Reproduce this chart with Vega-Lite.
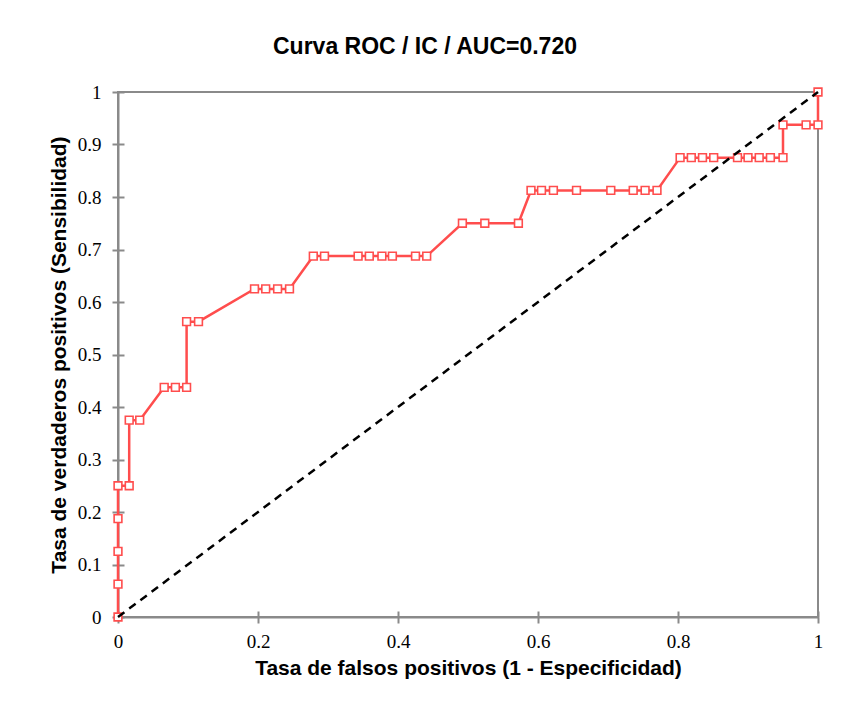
{
  "$schema": "https://vega.github.io/schema/vega-lite/v6.json",
  "width": 700,
  "height": 525,
  "autosize": {"type": "none"},
  "padding": {"left": 118, "top": 92, "right": 24, "bottom": 94},
  "background": "white",
  "title": {
    "text": "Curva ROC / IC / AUC=0.720",
    "font": "Liberation Sans",
    "fontSize": 23,
    "fontWeight": "bold",
    "color": "black",
    "anchor": "middle",
    "dx": -43,
    "offset": 24
  },
  "config": {
    "view": {"stroke": "#8a8a8a", "strokeWidth": 2},
    "axis": {
      "domainColor": "#8a8a8a",
      "domainWidth": 2,
      "tickColor": "#8a8a8a",
      "tickWidth": 2,
      "grid": false,
      "labelFlush": false,
      "labelFont": "Liberation Serif",
      "labelFontSize": 19,
      "labelColor": "black",
      "titleFont": "Liberation Sans",
      "titleFontSize": 21,
      "titleFontWeight": "bold",
      "titleColor": "black"
    }
  },
  "datasets": {
    "roc": [
      {"k": 1, "fpr": 0, "tpr": 0},
      {"k": 2, "fpr": 0, "tpr": 0.0625},
      {"k": 3, "fpr": 0, "tpr": 0.125},
      {"k": 4, "fpr": 0, "tpr": 0.1875},
      {"k": 5, "fpr": 0, "tpr": 0.25},
      {"k": 6, "fpr": 0.016, "tpr": 0.25},
      {"k": 7, "fpr": 0.016, "tpr": 0.375},
      {"k": 8, "fpr": 0.031, "tpr": 0.375},
      {"k": 9, "fpr": 0.066, "tpr": 0.4375},
      {"k": 10, "fpr": 0.082, "tpr": 0.4375},
      {"k": 11, "fpr": 0.098, "tpr": 0.4375},
      {"k": 12, "fpr": 0.098, "tpr": 0.5625},
      {"k": 13, "fpr": 0.115, "tpr": 0.5625},
      {"k": 14, "fpr": 0.195, "tpr": 0.625},
      {"k": 15, "fpr": 0.211, "tpr": 0.625},
      {"k": 16, "fpr": 0.228, "tpr": 0.625},
      {"k": 17, "fpr": 0.245, "tpr": 0.625},
      {"k": 18, "fpr": 0.279, "tpr": 0.6875},
      {"k": 19, "fpr": 0.295, "tpr": 0.6875},
      {"k": 20, "fpr": 0.343, "tpr": 0.6875},
      {"k": 21, "fpr": 0.359, "tpr": 0.6875},
      {"k": 22, "fpr": 0.377, "tpr": 0.6875},
      {"k": 23, "fpr": 0.392, "tpr": 0.6875},
      {"k": 24, "fpr": 0.425, "tpr": 0.6875},
      {"k": 25, "fpr": 0.441, "tpr": 0.6875},
      {"k": 26, "fpr": 0.492, "tpr": 0.75},
      {"k": 27, "fpr": 0.524, "tpr": 0.75},
      {"k": 28, "fpr": 0.572, "tpr": 0.75},
      {"k": 29, "fpr": 0.59, "tpr": 0.8125},
      {"k": 30, "fpr": 0.605, "tpr": 0.8125},
      {"k": 31, "fpr": 0.622, "tpr": 0.8125},
      {"k": 32, "fpr": 0.655, "tpr": 0.8125},
      {"k": 33, "fpr": 0.704, "tpr": 0.8125},
      {"k": 34, "fpr": 0.736, "tpr": 0.8125},
      {"k": 35, "fpr": 0.753, "tpr": 0.8125},
      {"k": 36, "fpr": 0.77, "tpr": 0.8125},
      {"k": 37, "fpr": 0.803, "tpr": 0.875},
      {"k": 38, "fpr": 0.819, "tpr": 0.875},
      {"k": 39, "fpr": 0.835, "tpr": 0.875},
      {"k": 40, "fpr": 0.851, "tpr": 0.875},
      {"k": 41, "fpr": 0.885, "tpr": 0.875},
      {"k": 42, "fpr": 0.9, "tpr": 0.875},
      {"k": 43, "fpr": 0.916, "tpr": 0.875},
      {"k": 44, "fpr": 0.932, "tpr": 0.875},
      {"k": 45, "fpr": 0.95, "tpr": 0.875},
      {"k": 46, "fpr": 0.95, "tpr": 0.9375},
      {"k": 47, "fpr": 0.983, "tpr": 0.9375},
      {"k": 48, "fpr": 1, "tpr": 0.9375},
      {"k": 49, "fpr": 1, "tpr": 1}
    ],
    "diag": [
      {"fpr": 0, "tpr": 0},
      {"fpr": 1, "tpr": 1}
    ]
  },
  "resolve": {"axis": {"x": "independent", "y": "independent"}},
  "layer": [
    {
      "data": {"name": "roc"},
      "mark": {"type": "line", "color": "#ff4d4d", "strokeWidth": 2.5},
      "encoding": {
        "x": {
          "field": "fpr", "type": "quantitative",
          "scale": {"domain": [0, 1], "nice": false},
          "axis": {
            "orient": "bottom",
            "title": "Tasa de falsos positivos (1 - Especificidad)",
            "values": [0, 0.2, 0.4, 0.6, 0.8, 1],
            "format": "~g",
            "tickSize": 6,
            "labelPadding": 9,
            "titlePadding": 6
          }
        },
        "y": {
          "field": "tpr", "type": "quantitative",
          "scale": {"domain": [0, 1], "nice": false},
          "axis": {
            "orient": "left",
            "title": "Tasa de verdaderos positivos (Sensibilidad)",
            "values": [0, 0.1, 0.2, 0.3, 0.4, 0.5, 0.6, 0.7, 0.8, 0.9, 1],
            "format": "~g",
            "tickSize": 6,
            "labelPadding": 11,
            "titlePadding": 8
          }
        },
        "order": {"field": "k", "type": "quantitative"}
      }
    },
    {
      "data": {"name": "roc"},
      "mark": {"type": "point", "shape": "square", "filled": false, "fill": "white", "fillOpacity": 1, "stroke": "#ff4d4d", "strokeWidth": 1.6, "size": 60, "opacity": 1},
      "encoding": {
        "x": {"field": "fpr", "type": "quantitative", "axis": null},
        "y": {"field": "tpr", "type": "quantitative", "axis": null}
      }
    },
    {
      "data": {"name": "diag"},
      "mark": {"type": "line", "color": "black", "strokeWidth": 2.5, "strokeDash": [8, 6]},
      "encoding": {
        "x": {
          "field": "fpr", "type": "quantitative",
          "axis": {"orient": "bottom", "labels": false, "domain": false, "title": null, "tickSize": -6, "values": [0, 0.2, 0.4, 0.6, 0.8, 1]}
        },
        "y": {
          "field": "tpr", "type": "quantitative",
          "axis": {"orient": "left", "labels": false, "domain": false, "title": null, "tickSize": -6, "values": [0, 0.1, 0.2, 0.3, 0.4, 0.5, 0.6, 0.7, 0.8, 0.9, 1]}
        }
      }
    }
  ]
}
